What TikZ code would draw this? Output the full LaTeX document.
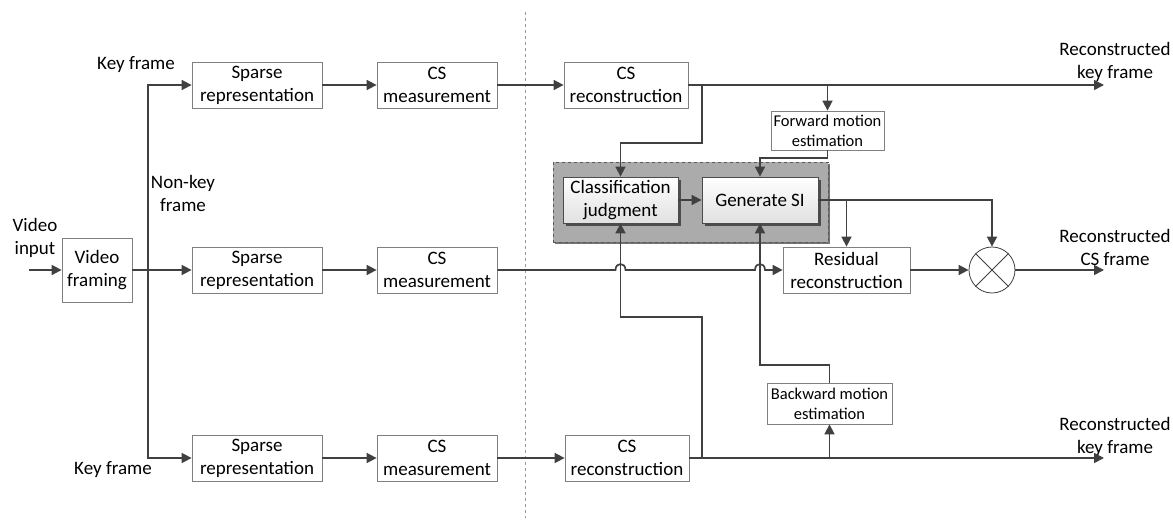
\documentclass[tikz,border=0pt]{standalone}
\usepackage{fontspec}
\setmainfont{Carlito}
\usepackage{tikz}
\usetikzlibrary{arrows.meta}
\usetikzlibrary{shadows}
\usetikzlibrary{positioning}

\begin{document}
\begin{tikzpicture}[x=1pt, y=-1pt,
		font=\fontsize{19}{23}\selectfont,
		>={Triangle[length=10pt, width=10pt]},
		line/.style={draw=black!75, line width=1.7pt},
		box/.style={draw=black!50, line width=0.8pt, fill=white, rectangle, align=center, inner sep=0pt,
			minimum width=130pt, minimum height=46pt},
		smallbox/.style={box, font=\fontsize{16.5}{20}\selectfont},
		shadebox/.style={box, top color=white, bottom color=black!12, draw=black!70,
			drop shadow={shadow xshift=2.5pt, shadow yshift=-2.5pt, fill=black!70, opacity=1}},
		groupbox/.style={draw=black!65, dashed, line width=0.8pt, fill=black!33, inner sep=0pt,
			drop shadow={shadow xshift=2pt, shadow yshift=-2pt, fill=black!55, opacity=1}}]
			\useasboundingbox (0,0) rectangle (1173,522);
			% separator
			\draw [black!40, dashed, line width=0.8pt] (525,12) -- (525,518);
			% input
			\node[align=center] (vin) at (35,238) {Video\\input};
			\coordinate (in) at (29,270);
			\node[box, minimum width=70pt, minimum height=64pt] (VF) at (97,270) {Video\\framing};
			\draw [line, ->] (in) -- (VF);
			\coordinate (split) at (148,270);
			% three rows
			\node[box] (SR1) at (257,85) {Sparse\\representation};
			\node[box, minimum width=120pt] (CSM1) at (437,85) {CS\\measurement};
			\node[box, minimum width=124pt] (CSR1) at (626,85) {CS\\reconstruction};
			\node[box] (SR2) at (257,270) {Sparse\\representation};
			\node[box, minimum width=120pt] (CSM2) at (437,270) {CS\\measurement};
			\node[box] (SR3) at (257,458) {Sparse\\representation};
			\node[box, minimum width=120pt] (CSM3) at (437,458) {CS\\measurement};
			\node[box, minimum width=124pt] (CSR3) at (627,458) {CS\\reconstruction};
			\node (kf1) at (136,65) {Key frame};
			\node[align=center] (nkf) at (183,193) {Non-key\\frame};
			\node (kf3) at (113,470) {Key frame};
			\draw [line, ->] (VF) -- (SR2);
			\draw [line, ->] (split) |- (SR1);
			\draw [line, ->] (split) |- (SR3);
			\draw [line, ->] (SR1) -- (CSM1);
			\draw [line, ->] (CSM1) -- (CSR1);
			\draw [line, ->] (SR2) -- (CSM2);
			\draw [line, ->] (SR3) -- (CSM3);
			\draw [line, ->] (CSM3) -- (CSR3);
			% side information
			\node[groupbox, minimum width=275pt, minimum height=80pt] (grp) at (690.5,202) {};
			\node[shadebox, minimum width=115pt] (CJ) at (620.5,200) {Classification\\judgment};
			\node[shadebox, minimum width=116pt] (GSI) at (760,200) {Generate SI};
			\node[smallbox, minimum width=113pt, minimum height=39pt] (FME) at (827.5,130.5) {Forward motion\\estimation};
			\node[smallbox, minimum width=125pt, minimum height=41pt] (BME) at (829.5,403.5) {Backward motion\\estimation};
			\node[box, minimum width=127pt] (RR) at (846.5,270) {Residual\\reconstruction};
			\node[draw=black!75, line width=0.8pt, circle, minimum size=46pt, inner sep=0pt] (mult) at (992,270) {};
			\draw [black!75, line width=0.8pt] (mult.north west) -- (mult.south east) (mult.north east) -- (mult.south west);
			% outputs
			\node[align=center] (out1) at (1115,62) {Reconstructed\\key frame};
			\node[align=center] (out2) at (1115,247) {Reconstructed\\CS frame};
			\node[align=center] (out3) at (1115,437) {Reconstructed\\key frame};
			\coordinate (end1) at (1104,85);
			\coordinate (end2) at (1104,270);
			\coordinate (end3) at (1104,458);
			\coordinate (t1) at (702,85);
			\coordinate (b1) at (702,458);
			\draw [line, ->] (CSR1) -- (end1);
			\draw [line, ->] (t1) -- ++(0,58) -| (CJ);
			\draw [line, ->] (FME.north |- CSR1) -- (FME);
			\draw [line, ->] (FME) -- ++(0,27.5) -| (GSI);
			\draw [line, ->] (CJ) -- (GSI);
			\draw [line, ->] (GSI) -| (mult);
			\draw [line, ->] (GSI.east -| RR.north) -- (RR);
			\draw [line, ->] (CSM2) -- (615.5,270) .. controls (615.5,262) and (625.5,262) .. (625.5,270)
				-- (755,270) .. controls (755,262) and (765,262) .. (765,270) -- (RR);
			\draw [line, ->] (RR) -- (mult);
			\draw [line, ->] (mult) -- (end2);
			\draw [line, ->] (CSR3) -- (end3);
			\draw [line, ->] (b1) -- ++(0,-141) -| (CJ);
			\draw [line, ->] (BME.south |- CSR3) -- (BME);
			\draw [line, ->] (BME) -- ++(0,-38.5) -| (GSI);
		\end{tikzpicture}
\end{document}
